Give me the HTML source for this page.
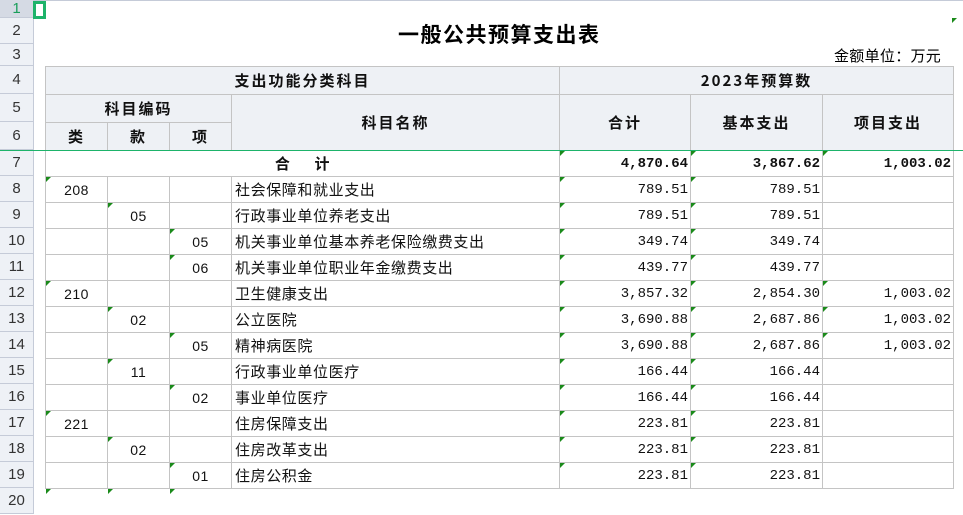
<!DOCTYPE html>
<html><head><meta charset="utf-8"><style>
*{margin:0;padding:0;box-sizing:border-box}
body{width:963px;height:497px;overflow:hidden;background:#fff;position:relative;font-family:"Liberation Sans","Noto Sans CJK SC",sans-serif}
.rh{position:absolute;left:0;width:34px;background:#eef1f6;border-bottom:1px solid #c5cbd8;border-right:1px solid #c5cbd8;text-align:center;font-size:15px;color:#333;}
table{position:absolute;left:45px;top:66px;border-collapse:collapse;table-layout:fixed;font-size:15px;color:#111}
td{border:1px solid #c4c4c4;padding:0 3px;white-space:nowrap;overflow:hidden;position:relative;font-family:"Noto Sans CJK SC",sans-serif;letter-spacing:0.6px}
.h{background:#eef1f5;font-weight:bold;text-align:center;font-size:15px;letter-spacing:2px}
.c{text-align:center;font-family:"Liberation Sans",sans-serif;font-size:14px;letter-spacing:0.5px}
.n{text-align:right;font-family:"Liberation Mono",monospace;font-size:14px;padding-right:2px;letter-spacing:0}
.b{font-weight:bold}
.t:before{content:"";position:absolute;left:0;top:0;border-top:5px solid #1a8a1a;border-right:5px solid transparent}
</style></head><body>
<div style="position:absolute;left:34px;top:0;width:929px;height:1px;background:#c5cbd8"></div>
<div class="rh" style="top:0;height:18px;line-height:17px;background:#d5dae4;color:#1a9e5a">1</div>
<div class="rh" style="top:18px;height:26px;line-height:26px">2</div>
<div class="rh" style="top:44px;height:22px;line-height:22px">3</div>
<div class="rh" style="top:66px;height:28px;line-height:28px">4</div>
<div class="rh" style="top:94px;height:28px;line-height:28px">5</div>
<div class="rh" style="top:122px;height:28px;line-height:28px">6</div>
<div class="rh" style="top:150px;height:26px;line-height:26px">7</div>
<div class="rh" style="top:176px;height:26px;line-height:26px">8</div>
<div class="rh" style="top:202px;height:26px;line-height:26px">9</div>
<div class="rh" style="top:228px;height:26px;line-height:26px">10</div>
<div class="rh" style="top:254px;height:26px;line-height:26px">11</div>
<div class="rh" style="top:280px;height:26px;line-height:26px">12</div>
<div class="rh" style="top:306px;height:26px;line-height:26px">13</div>
<div class="rh" style="top:332px;height:26px;line-height:26px">14</div>
<div class="rh" style="top:358px;height:26px;line-height:26px">15</div>
<div class="rh" style="top:384px;height:26px;line-height:26px">16</div>
<div class="rh" style="top:410px;height:26px;line-height:26px">17</div>
<div class="rh" style="top:436px;height:26px;line-height:26px">18</div>
<div class="rh" style="top:462px;height:26px;line-height:26px">19</div>
<div class="rh" style="top:488px;height:26px;line-height:26px">20</div>
<div style="position:absolute;left:33px;top:1px;width:13px;height:18px;border:3px solid #1db36a"></div>
<div style="position:absolute;left:398px;top:19px;font-size:21px;font-weight:bold;font-family:'Noto Sans CJK SC',sans-serif;letter-spacing:1.5px">一般公共预算支出表</div>
<div style="position:absolute;left:834px;top:45px;font-size:15px;font-family:'Noto Sans CJK SC',sans-serif;letter-spacing:0.3px">金额单位：万元</div>
<div style="position:absolute;left:952px;top:18px;border-top:5px solid #1a8a1a;border-right:5px solid transparent"></div>
<table>
<colgroup><col style="width:62px"><col style="width:62px"><col style="width:62px"><col style="width:328px"><col style="width:131px"><col style="width:132px"><col style="width:131px"></colgroup>
<tr style="height:28px"><td class="h" colspan="4">支出功能分类科目</td><td class="h" colspan="3">2023年预算数</td></tr>
<tr style="height:28px"><td class="h" colspan="3">科目编码</td><td class="h" rowspan="2">科目名称</td><td class="h" rowspan="2">合计</td><td class="h" rowspan="2">基本支出</td><td class="h" rowspan="2">项目支出</td></tr>
<tr style="height:28px"><td class="h">类</td><td class="h">款</td><td class="h">项</td></tr>
<tr style="height:26px"><td colspan="4" class="b" style="text-align:center">合&nbsp;&nbsp;&nbsp;&nbsp;&nbsp;&nbsp;计</td><td class="n b t">4,870.64</td><td class="n b t">3,867.62</td><td class="n b t">1,003.02</td></tr>
<tr style="height:26px"><td class="c t">208</td><td></td><td></td><td>社会保障和就业支出</td><td class="n t">789.51</td><td class="n t">789.51</td><td></td></tr>
<tr style="height:26px"><td></td><td class="c t">05</td><td></td><td>行政事业单位养老支出</td><td class="n t">789.51</td><td class="n t">789.51</td><td></td></tr>
<tr style="height:26px"><td></td><td></td><td class="c t">05</td><td>机关事业单位基本养老保险缴费支出</td><td class="n t">349.74</td><td class="n t">349.74</td><td></td></tr>
<tr style="height:26px"><td></td><td></td><td class="c t">06</td><td>机关事业单位职业年金缴费支出</td><td class="n t">439.77</td><td class="n t">439.77</td><td></td></tr>
<tr style="height:26px"><td class="c t">210</td><td></td><td></td><td>卫生健康支出</td><td class="n t">3,857.32</td><td class="n t">2,854.30</td><td class="n t">1,003.02</td></tr>
<tr style="height:26px"><td></td><td class="c t">02</td><td></td><td>公立医院</td><td class="n t">3,690.88</td><td class="n t">2,687.86</td><td class="n t">1,003.02</td></tr>
<tr style="height:26px"><td></td><td></td><td class="c t">05</td><td>精神病医院</td><td class="n t">3,690.88</td><td class="n t">2,687.86</td><td class="n t">1,003.02</td></tr>
<tr style="height:26px"><td></td><td class="c t">11</td><td></td><td>行政事业单位医疗</td><td class="n t">166.44</td><td class="n t">166.44</td><td></td></tr>
<tr style="height:26px"><td></td><td></td><td class="c t">02</td><td>事业单位医疗</td><td class="n t">166.44</td><td class="n t">166.44</td><td></td></tr>
<tr style="height:26px"><td class="c t">221</td><td></td><td></td><td>住房保障支出</td><td class="n t">223.81</td><td class="n t">223.81</td><td></td></tr>
<tr style="height:26px"><td></td><td class="c t">02</td><td></td><td>住房改革支出</td><td class="n t">223.81</td><td class="n t">223.81</td><td></td></tr>
<tr style="height:26px"><td></td><td></td><td class="c t">01</td><td>住房公积金</td><td class="n t">223.81</td><td class="n t">223.81</td><td></td></tr>
<tr style="height:26px"><td class="t" style="border:none"></td><td class="t" style="border:none"></td><td class="t" style="border:none"></td><td style="border:none"></td><td style="border:none"></td><td style="border:none"></td><td style="border:none"></td></tr>
</table>
<div style="position:absolute;left:0;top:150px;width:963px;height:1px;background:#1db36a"></div>
</body></html>
